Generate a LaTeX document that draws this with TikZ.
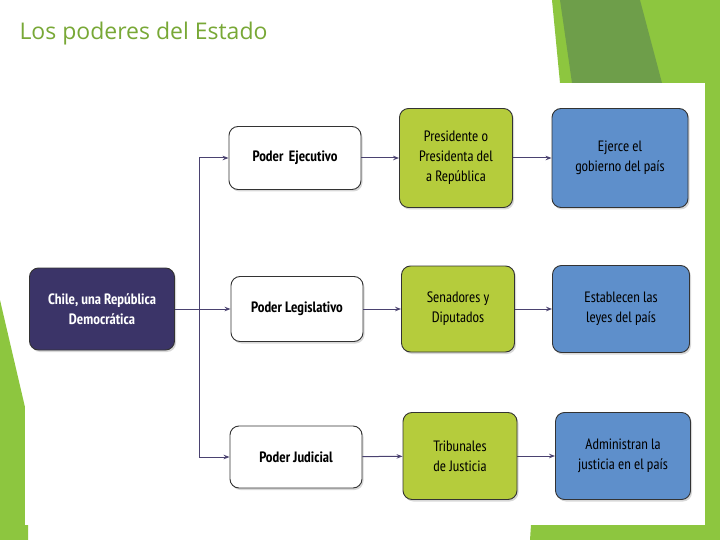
\documentclass[tikz,border=0pt]{standalone}
\usepackage{fontspec}
\setmainfont{PT Sans Narrow}[BoldFont={PT Sans Narrow Bold}]
\newfontfamily\titlefont{Open Sans}
\usetikzlibrary{positioning,arrows.meta,shadows}

\definecolor{navybox}{HTML}{3B3468}
\definecolor{limebox}{HTML}{B5CC3C}
\definecolor{bluebox}{HTML}{5E8FCB}
\definecolor{slidegreen}{HTML}{8DC63F}
\definecolor{darkgreen}{HTML}{6E9E4A}
\definecolor{linkcol}{HTML}{4A4270}

\tikzset{
    box/.style={rectangle, rounded corners=9pt, draw=black!80, line width=0.9pt,
        align=center, font=\fontsize{15}{20}\selectfont,
        drop shadow={shadow xshift=1.5pt, shadow yshift=-2pt, opacity=0.3}},
    power/.style={box, fill=white, minimum width=132pt, font=\bfseries\fontsize{15}{20}\selectfont},
    link/.style={draw=linkcol, line width=1pt, -{Stealth[length=6pt]}},
}

\begin{document}
\begin{tikzpicture}[x=1pt, y=-1pt]

    \useasboundingbox (0,0) rectangle (720,540);
    \fill[white] (0,0) rectangle (720,540);

    % slide decoration
    \fill[slidegreen] (552,0) -- (720,0) -- (720,540) -- (530,540) -- (560,83) -- cycle;
    \fill[darkgreen] (560,0) -- (640,0) -- (662,83) -- (572,83) -- cycle;
    \fill[slidegreen] (0,300) -- (28,420) -- (28,540) -- (0,540) -- cycle;
    \fill[white] (25,83) rectangle (705,525);

    \node[anchor=west, text=slidegreen!85!black, font=\titlefont\fontsize{23}{28}\selectfont]
        (title) at (16,34) {Los poderes del Estado};

    \node
        [ box,
            fill=navybox,
            text=white,
            font=\bfseries\fontsize{15}{20}\selectfont,
            minimum width=145pt,
            minimum height=82pt,
        ] (chile) at (102,309) {Chile, una República\\ Democrática};

    % powers
    \node[power, minimum height=63pt] (ejec) at (295,158) {Poder\, Ejecutivo};
    \node[power, minimum height=65pt] (legis) at (297,309) {Poder Legislativo};
    \node[power, minimum height=62pt] (judic) at (296,457) {Poder Judicial};

    % who
    \node[box, fill=limebox, minimum width=113pt, minimum height=99pt]
        (pres) at (456,158) {Presidente o\\ Presidenta del\\ a República};
    \node[box, fill=limebox, minimum width=113pt, minimum height=86pt]
        (sena) at (458,309) {Senadores y\\ Diputados};
    \node[box, fill=limebox, minimum width=114pt, minimum height=87pt]
        (trib) at (460,456) {Tribunales\\ de Justicia};

    % what
    \node[box, fill=bluebox, minimum width=136pt, minimum height=99pt]
        (gob) at (620,158) {Ejerce el\\ gobierno del país};
    \node[box, fill=bluebox, minimum width=137pt, minimum height=87pt]
        (leyes) at (621,309) {Establecen las\\ leyes del país};
    \node[box, fill=bluebox, minimum width=135pt, minimum height=87pt]
        (just) at (623,456) {Administran la\\ justicia en el país};

    \coordinate (fork) at (199,309);

    \draw[link] (chile) -- (legis);
    \draw[link] (fork) |- (ejec);
    \draw[link] (fork) |- (judic);

    \draw[link] (ejec) -- (pres);
    \draw[link] (legis) -- (sena);
    \draw[link] (judic) -- (trib);
    \draw[link] (pres) -- (gob);
    \draw[link] (sena) -- (leyes);
    \draw[link] (trib) -- (just);

\end{tikzpicture}
\end{document}
